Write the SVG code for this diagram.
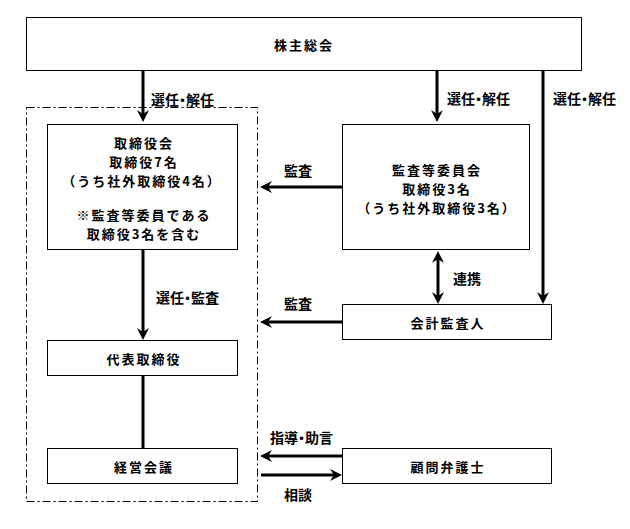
<svg xmlns="http://www.w3.org/2000/svg" width="630" height="529" viewBox="0 0 630 529">
<defs>
<style>
.box{fill:#fff;stroke:#000;stroke-width:1}
.t{font-family:"Noto Sans CJK JP","Noto Sans CJK SC",sans-serif;font-size:13px;font-weight:bold;letter-spacing:2px;fill:#000;text-anchor:middle;dominant-baseline:central}
.tl{font-family:"Noto Sans CJK JP","Noto Sans CJK SC",sans-serif;font-size:14px;font-weight:bold;fill:#000;dominant-baseline:central}
.p{font-feature-settings:"palt"}
.c{stroke:#000;stroke-width:3;fill:none}
.a{marker-end:url(#ah)}
.d{marker-start:url(#ah);marker-end:url(#ah)}
</style>
<marker id="ah" viewBox="0 0 12 12" refX="8" refY="6" markerWidth="12" markerHeight="12" markerUnits="userSpaceOnUse" orient="auto-start-reverse">
<path d="M0,0 L12,6 L0,12 L4,6 z" fill="#000"/>
</marker>
</defs>

<rect id="group" x="26.5" y="107.5" width="231" height="394" fill="none" stroke="#000" stroke-width="1" stroke-dasharray="8,3,2,3"/>

<g id="connectors">
<line class="c a" x1="143" y1="71" x2="143" y2="118"/>
<line class="c a" x1="437" y1="71" x2="437" y2="118"/>
<line class="c a" x1="543" y1="71" x2="543" y2="300"/>
<line class="c a" x1="143" y1="250" x2="143" y2="336"/>
<line class="c" x1="143" y1="376" x2="143" y2="448" stroke="#222"/>
<line class="c a" x1="342" y1="187" x2="264" y2="187"/>
<line class="c d" x1="438" y1="255" x2="438" y2="300"/>
<line class="c a" x1="342" y1="322" x2="264" y2="322"/>
<line class="c a" x1="342" y1="456" x2="264" y2="456"/>
<line class="c a" x1="261" y1="475" x2="338" y2="475"/>
<text class="tl p" x="151" y="99">選任・解任</text>
<text class="tl p" x="447" y="98">選任・解任</text>
<text class="tl p" x="553" y="98">選任・解任</text>
<text class="tl p" x="156" y="297">選任・監査</text>
<text class="tl" x="284" y="170">監査</text>
<text class="tl" x="453" y="278">連携</text>
<text class="tl" x="284" y="303">監査</text>
<text class="tl p" x="270" y="437">指導・助言</text>
<text class="tl" x="284" y="494">相談</text>
</g>

<g id="shareholders">
<rect class="box" x="26.5" y="17.5" width="555" height="53"/>
<text class="t" x="304" y="44">株主総会</text>
</g>

<g id="board">
<rect class="box" x="47.5" y="124.5" width="190" height="125"/>
<text class="t" x="144" y="142">取締役会</text>
<text class="t" x="144" y="161">取締役7名</text>
<text class="t" x="142" y="180">（うち社外取締役4名）</text>
<text class="t" x="144" y="214">※監査等委員である</text>
<text class="t" x="144" y="233">取締役3名を含む</text>
</g>

<g id="audit-committee">
<rect class="box" x="342.5" y="124.5" width="187" height="125"/>
<text class="t" x="437" y="169">監査等委員会</text>
<text class="t" x="437" y="188">取締役3名</text>
<text class="t" x="437" y="207">（うち社外取締役3名）</text>
</g>

<g id="representative">
<rect class="box" x="47.5" y="340.5" width="190" height="35"/>
<text class="t" x="144" y="358">代表取締役</text>
</g>

<g id="auditor">
<rect class="box" x="342.5" y="304.5" width="209" height="35"/>
<text class="t" x="448" y="322">会計監査人</text>
</g>

<g id="management">
<rect class="box" x="47.5" y="448.5" width="190" height="35"/>
<text class="t" x="144" y="466">経営会議</text>
</g>

<g id="lawyer">
<rect class="box" x="342.5" y="448.5" width="209" height="35"/>
<text class="t" x="448" y="466">顧問弁護士</text>
</g>
</svg>
